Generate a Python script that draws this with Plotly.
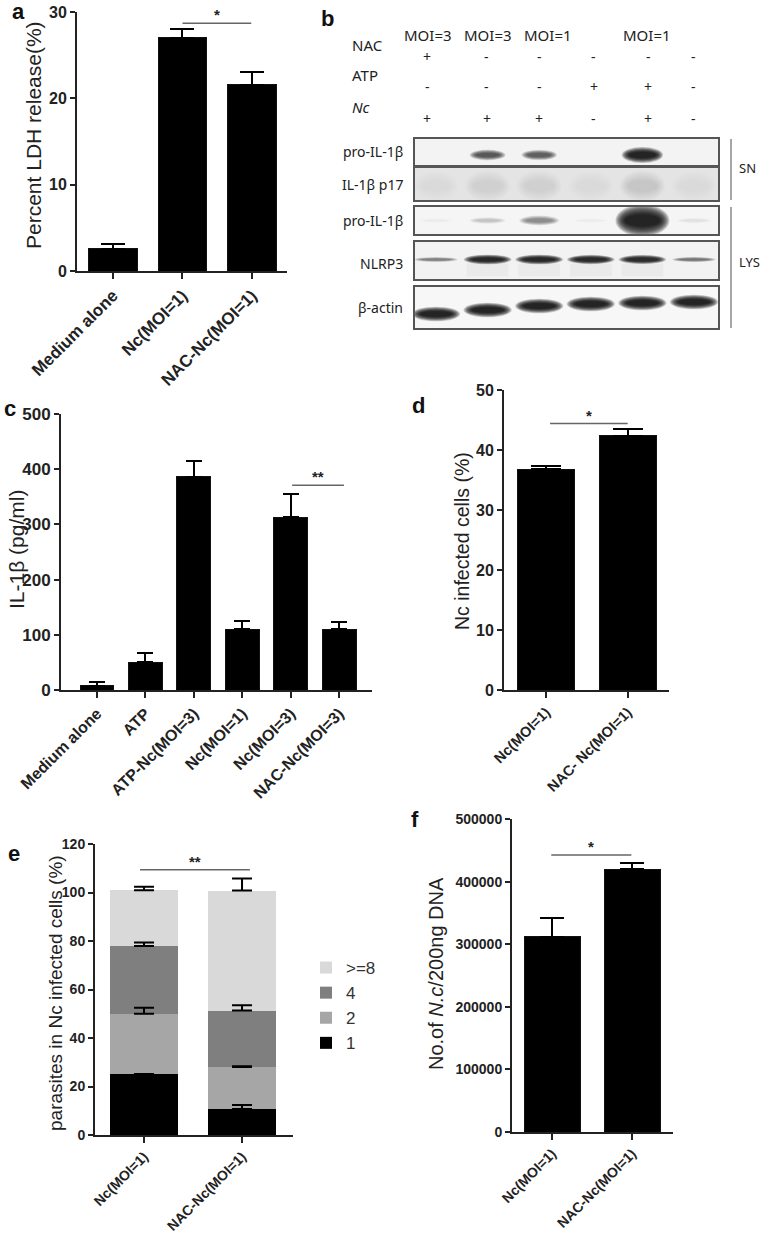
import plotly.graph_objects as go

W, H = 763, 1240
def fx(p): return p / W
def fy(p): return 1 - p / H

# ---------------- data ----------------
a_cats = ["Medium alone", "Nc(MOI=1)", "NAC-Nc(MOI=1)"]
a_mean = [2.55, 27.0, 21.6]
a_err = [0.6, 1.05, 1.4]

c_cats = ["Medium alone", "ATP", "ATP-Nc(MOI=3)", "Nc(MOI=1)", "Nc(MOI=3)", "NAC-Nc(MOI=3)"]
c_mean = [7.9, 50.7, 386.5, 110.0, 313.4, 110.0]
c_err = [7.2, 15.7, 27.8, 15.1, 41.1, 12.7]

d_cats = ["Nc(MOI=1)", "NAC- Nc(MOI=1)"]
d_mean = [36.8, 42.4]
d_err = [0.55, 1.05]

e_cats = ["Nc(MOI=1)", "NAC-Nc(MOI=1)"]
e_groups = ["1", "2", "4", ">=8"]
e_vals = {"1": [25.0, 10.7], "2": [25.0, 17.3], "4": [27.9, 23.3], ">=8": [23.0, 49.5]}
e_errs = {"1": [0.2, 1.7], "2": [2.5, 0.4], "4": [1.5, 2.2], ">=8": [1.5, 5.0]}

f_cats = ["Nc(MOI=1)", "NAC-Nc(MOI=1)"]
f_mean = [311800, 420000]
f_err = [29900, 10200]

# significance brackets: (x start, x end, y, label)
a_sig = (1.0, 1.99, 28.7, "*")
c_sig = (4.03, 5.1, 371, "**")
d_sig = (0.05, 1.0, 44.4, "*")
e_sig = (-0.04, 1.08, 109.4, "**")
f_sig = (-0.01, 0.99, 442400, "*")

# western blot (panel b)
moi_labels = ["MOI=3", "MOI=3", "MOI=1", "", "MOI=1", ""]
nac_signs = ["+", "-", "-", "-", "-", "-"]
atp_signs = ["-", "-", "-", "+", "+", "-"]
nc_signs = ["+", "+", "+", "-", "+", "-"]
blot_rows = ["pro-IL-1β", "IL-1β p17", "pro-IL-1β", "NLRP3", "β-actin"]
band_sn_pro = [0.0, 0.55, 0.5, 0.0, 1.0, 0.0]
band_sn_p17 = [0.03, 0.05, 0.04, 0.03, 0.06, 0.03]
band_lys_pro = [0.02, 0.12, 0.3, 0.03, 1.0, 0.05]
band_nlrp3 = [0.35, 0.95, 0.95, 0.92, 0.9, 0.4]
band_actin = [1.0, 1.0, 1.0, 1.0, 1.0, 1.0]
band_data = [band_sn_pro, band_sn_p17, band_lys_pro, band_nlrp3, band_actin]

# ---------------- figure ----------------
fig = go.Figure()
FONT = "Liberation Sans"
AX = "#222"

panels = [
    ("a", "", (77, 287), (12, 271), [-0.518, 2.504], [0, 30], 10, 16, 17, 12),
    ("c", "2", (61, 372), (414, 690), [-0.744, 5.68], [0, 500], 100, 17, 16, 8),
    ("d", "3", (504, 669), (390, 690), [-0.514, 1.506], [0, 50], 10, 16, 14.5, 15),
    ("e", "4", (95, 293), (844, 1135), [-0.5, 1.52], [0, 120], 20, 14, 14, 10),
    ("f", "5", (512, 673), (819, 1132), [-0.5, 1.51], [0, 500000], 100000, 14, 14, 12),
]
cats = {"a": a_cats, "c": c_cats, "d": d_cats, "e": e_cats, "f": f_cats}
bars = {"a": (a_mean, a_err), "c": (c_mean, c_err), "d": (d_mean, d_err), "f": (f_mean, f_err)}
sigs = {"a": a_sig, "c": c_sig, "d": d_sig, "e": e_sig, "f": f_sig}

layout_axes = {}
annotations = []
shapes = []

for name, sfx, xd, yd, xr, yr, dt, yfs, xfs, cap in panels:
    xa, ya = "x" + sfx, "y" + sfx
    n = len(cats[name])
    layout_axes["xaxis" + sfx] = dict(
        domain=[fx(xd[0]), fx(xd[1])], range=xr, anchor=ya, automargin=False,
        tickmode="array", tickvals=list(range(n)), ticktext=cats[name],
        tickangle=-45, ticks="outside", ticklen=6, tickwidth=2, tickcolor=AX,
        showline=True, linewidth=2, linecolor=AX, showgrid=False, zeroline=False,
        tickfont=dict(family=FONT, size=xfs, color=AX, weight="bold"),
    )
    layout_axes["yaxis" + sfx] = dict(
        domain=[fy(yd[1]), fy(yd[0])], range=yr, anchor=xa, dtick=dt, tick0=0, automargin=False,
        ticks="outside", ticklen=5, tickwidth=2, tickcolor=AX, tickformat="d",
        showline=True, linewidth=2, linecolor=AX, showgrid=False, zeroline=False,
        tickfont=dict(family=FONT, size=yfs, color=AX, weight="bold"),
    )
    if name in bars:
        m, e = bars[name]
        fig.add_trace(go.Bar(
            x=list(range(n)), y=m, width=0.7, xaxis=xa, yaxis=ya, showlegend=False,
            marker=dict(color="black", line=dict(color="#111", width=1)),
            error_y=dict(type="data", array=e, arrayminus=[0] * n, symmetric=False,
                         color="black", thickness=2, width=cap),
        ))
    else:
        colors = {"1": "#000000", "2": "#a6a6a6", "4": "#7f7f7f", ">=8": "#d9d9d9"}
        cum = [0.0] * n
        tops = {}
        for g in e_groups:
            fig.add_trace(go.Bar(
                x=list(range(n)), y=e_vals[g], width=0.69, xaxis=xa, yaxis=ya, name=g,
                marker=dict(color=colors[g], line=dict(width=0)), legendgroup=g,
            ))
            cum = [c + v for c, v in zip(cum, e_vals[g])]
            tops[g] = list(cum)
        for g in e_groups:
            fig.add_trace(go.Scatter(
                x=list(range(n)), y=tops[g], mode="markers", xaxis=xa, yaxis=ya,
                marker=dict(size=1, opacity=0), showlegend=False, hoverinfo="skip",
                error_y=dict(type="data", array=e_errs[g], arrayminus=[0] * n,
                             symmetric=False, color="black", thickness=2, width=cap),
            ))
    s = sigs[name]
    fig.add_trace(go.Scatter(
        x=[s[0], s[1]], y=[s[2], s[2]], mode="lines", xaxis=xa, yaxis=ya,
        line=dict(color="#666", width=1.5), showlegend=False, hoverinfo="skip",
    ))
    annotations.append(dict(
        x=(s[0] + s[1]) / 2, y=s[2], xref=xa, yref=ya, text=s[3], showarrow=False,
        yanchor="bottom", yshift=-2, font=dict(family=FONT, size=15, color=AX, weight="bold"),
    ))

# y-axis titles
ytitles = [
    ("Percent LDH release(%)", 33, 135, 21),
    ("IL-1β (pg/ml)", 16, 550, 21),
    ("Nc infected cells (%)", 462, 541, 19.5),
    ("parasites in Nc infected cells (%)", 55, 993, 19),
    ("No.of <i>N.c</i>/200ng DNA", 436, 974, 20),
]
for t, px, py, fs in ytitles:
    annotations.append(dict(
        x=fx(px), y=fy(py), xref="paper", yref="paper", text=t, textangle=-90,
        showarrow=False, xanchor="center", yanchor="middle",
        font=dict(family=FONT, size=fs, color=AX),
    ))

# panel letters
for t, px, py in [("a", 18, 12), ("b", 327, 18), ("c", 10, 408), ("d", 418, 405), ("e", 14, 853), ("f", 415, 819)]:
    annotations.append(dict(
        x=fx(px), y=fy(py), xref="paper", yref="paper", text=t, showarrow=False,
        xanchor="center", yanchor="middle", font=dict(family=FONT, size=22, color="#111", weight="bold"),
    ))

# ---------------- western blot ----------------
LANE0, LANESP = 436, 51.6
blot_x = (415, 718)
blot_xr = [(blot_x[0] - LANE0) / LANESP, (blot_x[1] - LANE0) / LANESP]
row_boxes = [(139, 165), (168, 200), (207, 234), (242, 279), (287, 328)]
row_bg = ["#f3f3f3", "#e4e4e4", "#f5f5f5", "#f2f2f2", "#f7f7f7"]
row_style = [
    dict(wmin=26, wmax=36, hmin=5, hmax=11, yoff=[3] * 6),
    dict(wmin=40, wmax=40, hmin=22, hmax=22, yoff=[2] * 6),
    dict(wmin=30, wmax=47, hmin=4, hmax=22, yoff=[0] * 6),
    dict(wmin=36, wmax=42, hmin=2.5, hmax=7, yoff=[-1] * 6),
    dict(wmin=40, wmax=42, hmin=10, hmax=10, yoff=[6.5, 2.5, -1.5, -3.5, -4.5, -5.5]),
]
NL = 10
layers = [(1.15 - 0.045 * k, 1.45 - 0.1 * k, 0.17) for k in range(NL)]
nlane = len(nac_signs)

for r, (top, bot) in enumerate(row_boxes):
    sfx = str(6 + r)
    xa, ya = "x" + sfx, "y" + sfx
    hpx = bot - top
    layout_axes["xaxis" + sfx] = dict(
        domain=[fx(blot_x[0]), fx(blot_x[1])], range=blot_xr, anchor=ya, automargin=False,
        showline=True, mirror=True, linecolor="#555", linewidth=2,
        showticklabels=False, ticks="", showgrid=False, zeroline=False,
    )
    layout_axes["yaxis" + sfx] = dict(
        domain=[fy(bot), fy(top)], range=[hpx / 2, -hpx / 2], anchor=xa, automargin=False,
        showline=True, mirror=True, linecolor="#555", linewidth=2,
        showticklabels=False, ticks="", showgrid=False, zeroline=False,
    )
    fig.add_trace(go.Scatter(x=list(range(nlane)), y=[0] * nlane, mode="markers", xaxis=xa, yaxis=ya,
                             marker=dict(size=1, opacity=0), showlegend=False, hoverinfo="skip"))
    shapes.append(dict(type="rect", xref=xa + " domain", yref=ya + " domain", x0=0, x1=1, y0=0, y1=1,
                       fillcolor=row_bg[r], line=dict(width=0), layer="below"))
    st = row_style[r]
    for i, inten in enumerate(band_data[r]):
        if r == 3 and 1 <= i <= 4:
            shapes.append(dict(type="rect", xref=xa, yref=ya,
                               x0=i - 21 / LANESP, x1=i + 21 / LANESP, y0=3, y1=16,
                               fillcolor="rgba(0,0,0,0.03)", line=dict(width=0)))
        if inten < 0.02:
            continue
        w = (st["wmin"] + (st["wmax"] - st["wmin"]) * inten) / LANESP
        h = st["hmin"] + (st["hmax"] - st["hmin"]) * inten ** 1.5
        yc = st["yoff"][i]
        for sw, sh, al in layers:
            shapes.append(dict(type="circle", xref=xa, yref=ya,
                               x0=i - w * sw / 2, x1=i + w * sw / 2,
                               y0=yc - h * sh / 2, y1=yc + h * sh / 2,
                               fillcolor="rgba(0,0,0,%.3f)" % (al * inten), line=dict(width=0)))
    annotations.append(dict(x=fx(405), y=fy([152, 185, 220, 263, 307][r]), xref="paper", yref="paper",
                            text=blot_rows[r], showarrow=False, xanchor="right", yanchor="middle",
                            font=dict(family="Noto Sans", size=14, color="#222")))

BF = dict(family="Noto Sans", size=14, color="#222")
moi_dx = [-8, 0, 9, 0, 5, 0]
sign_dx = [-9, -1, 0, 3, 6, -1]
for i in range(nlane):
    if moi_labels[i]:
        annotations.append(dict(x=i, y=fy(23), xref="x6", yref="paper", text=moi_labels[i],
                                showarrow=False, xshift=moi_dx[i], font=dict(family="Noto Sans", size=15, color="#222")))
    for sgn, py in [(nac_signs, 45), (atp_signs, 75), (nc_signs, 107)]:
        annotations.append(dict(x=i, y=fy(py), xref="x6", yref="paper", text=sgn[i],
                                showarrow=False, xshift=sign_dx[i], font=BF))
for t, py in [("NAC", 45), ("ATP", 75), ("<i>Nc</i>", 107)]:
    annotations.append(dict(x=fx(350), y=fy(py), xref="paper", yref="paper", text=t, showarrow=False,
                            xanchor="left", yanchor="middle", font=dict(family="Noto Sans", size=15, color="#222")))
for t, py in [("SN", 168), ("LYS", 262)]:
    annotations.append(dict(x=fx(737), y=fy(py), xref="paper", yref="paper", text=t, showarrow=False,
                            xanchor="left", yanchor="middle", font=dict(family="Noto Sans", size=13, color="#222")))
for y0, y1 in [(139, 200), (207, 328)]:
    shapes.append(dict(type="line", xref="paper", yref="paper", x0=fx(731), x1=fx(731), y0=fy(y0), y1=fy(y1),
                       line=dict(color="#888", width=1.5)))

fig.update_layout(
    width=W, height=H, margin=dict(l=0, r=0, t=0, b=0),
    paper_bgcolor="white", plot_bgcolor="white", barmode="stack",
    annotations=annotations, shapes=shapes,
    legend=dict(x=fx(306), y=fy(950), xanchor="left", yanchor="top", traceorder="reversed",
                font=dict(family=FONT, size=17, color="#333"), bgcolor="rgba(0,0,0,0)",
                tracegroupgap=0, itemwidth=30),
    **layout_axes,
)
fig.write_html("out.html", config={"displayModeBar": False},
               post_script="document.body.style.margin='0';document.body.style.overflow='hidden';")
